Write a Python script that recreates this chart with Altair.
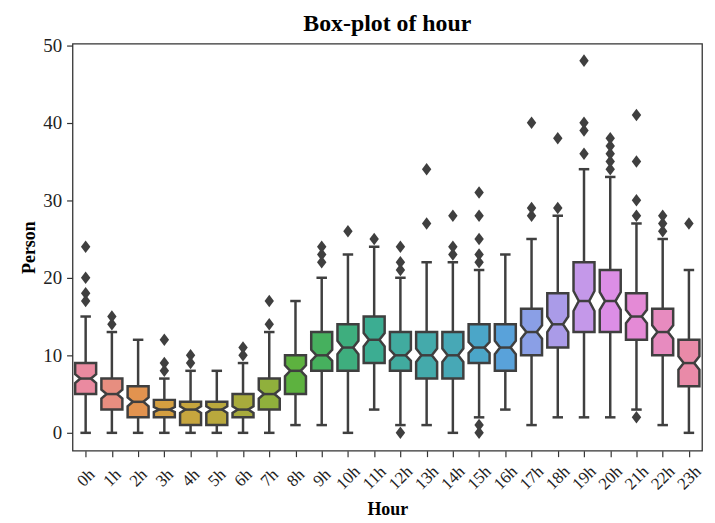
import altair as alt
import pandas as pd
import numpy as np

# ---- data ----
hours = [f"{h}h" for h in range(24)]
q1  = [5, 3, 2, 2, 1, 1, 2, 3, 5, 8, 8, 9, 8, 7, 7, 9, 8, 10, 11, 13, 13, 12, 10, 6]
med = [7, 5, 4, 3, 3, 3, 3, 5, 8, 10, 11, 12, 10, 10, 10, 11, 11, 13, 14, 17, 17, 15, 13, 9]
q3  = [9, 7, 6, 4.25, 4, 4, 5, 7, 10, 13, 14, 15, 13, 13, 13, 14, 14, 16, 18, 22, 21, 18, 16, 12]
lo  = [0, 0, 0, 0, 0, 0, 0, 0, 1, 1, 0, 3, 1, 1, 0, 2, 3, 1, 2, 2, 2, 3, 1, 0]
hi  = [15, 13, 12, 7, 8, 8, 9, 13, 17, 20, 23, 24, 20, 22, 22, 21, 23, 25, 28, 34, 33, 27, 25, 21]
fliers = [[17, 18, 20, 24], [14, 15], [], [8, 9, 12], [9, 10], [], [10, 11], [14, 17], [],
          [22, 23, 24], [26], [25], [0, 21, 22, 24], [27, 34], [23, 24, 28],
          [0, 1, 22, 23, 25, 28, 31], [], [28, 29, 40], [29, 38], [36, 39, 40, 48],
          [34, 35, 36, 37, 38], [2, 28, 30, 35, 41], [26, 27, 28], [27]]
n_obs = 120  # estimated observations per hour (sets notch size)

colors = ["#ea8aa0", "#e78e80", "#e2934f", "#d49f40", "#c6a53e", "#b9a83d", "#a8ab3c", "#90b03c",
          "#5db23f", "#46b05e", "#3eae7e", "#3cad92", "#41ab9f", "#44aaab", "#47a8b6", "#4ba6c8",
          "#59a2da", "#8a9fe6", "#aa9be8", "#c498e9", "#dc8ee6", "#e48ad6", "#e78bbf", "#e98aa8"]

GRAY = "#3f3f3f"
W = 0.8  # box width (fraction of category)

# ---- build tables ----
box_rows, stat_rows, flier_rows = [], [], []
for i, h in enumerate(hours):
    iqr = q3[i] - q1[i]
    notch = 1.57 * iqr / np.sqrt(n_obs)
    for y, half in [(q1[i], W / 2), (med[i] - notch, W / 2), (med[i], W / 4),
                    (med[i] + notch, W / 2), (q3[i], W / 2)]:
        box_rows.append({"hour": h, "y": y, "xl": i - half, "xr": i + half})
    stat_rows.append({"hour": h, "pos": i, "q1": q1[i], "med": med[i], "q3": q3[i],
                      "lo": lo[i], "hi": hi[i], "cl": i - W / 4, "cr": i + W / 4})
    for v in fliers[i]:
        flier_rows.append({"hour": h, "pos": i, "v": v})

box_df = pd.DataFrame(box_rows)
stat_df = pd.DataFrame(stat_rows)
flier_df = pd.DataFrame(flier_rows)

xscale = alt.Scale(domain=[-0.5, 23.5], nice=False, zero=False)
yscale = alt.Scale(domain=[-2.3, 50.2], nice=False, zero=False)

xaxis = alt.Axis(values=list(range(24)), labelExpr="datum.value + 'h'", title="Hour",
                 labelAngle=-45, labelAlign="center", labelBaseline="middle",
                 labelPadding=21, labelOverlap=False, labelBound=False,
                 titleY=64, titleBaseline="alphabetic", grid=False,
                 domain=False, tickColor="#333", tickWidth=1.2, tickSize=6,
                 labelFontSize=17, titleFontSize=18)
yaxis = alt.Axis(values=[0, 10, 20, 30, 40, 50], title="Person", grid=False, domain=False,
                 tickColor="#333", tickWidth=1.2, tickSize=6, labelPadding=5,
                 labelFontSize=19, titleFontSize=18, titleX=-38, titleBaseline="alphabetic")

base_stat = alt.Chart(stat_df)

whisk_lo = base_stat.mark_rule(color=GRAY, strokeWidth=2.5).encode(
    x=alt.X("pos:Q", scale=xscale, axis=xaxis),
    y=alt.Y("lo:Q", scale=yscale, axis=yaxis),
    y2="q1:Q")
whisk_hi = base_stat.mark_rule(color=GRAY, strokeWidth=2.5).encode(
    x=alt.X("pos:Q", axis=xaxis), y=alt.Y("q3:Q", axis=yaxis), y2="hi:Q")

boxes = alt.Chart(box_df).mark_area(orient="horizontal", stroke=GRAY, strokeWidth=2.5,
                                    strokeJoin="miter", opacity=1).encode(
    y=alt.Y("y:Q", axis=yaxis),
    x=alt.X("xl:Q", stack=None, axis=xaxis),
    x2="xr:Q",
    color=alt.Color("hour:N", scale=alt.Scale(domain=hours, range=colors), legend=None),
    detail="hour:N")

medians = base_stat.mark_rule(color=GRAY, strokeWidth=2.5).encode(
    x=alt.X("cl:Q", axis=xaxis), x2="cr:Q", y=alt.Y("med:Q", axis=yaxis))
cap_lo = base_stat.mark_rule(color=GRAY, strokeWidth=2.5).encode(
    x=alt.X("cl:Q", axis=xaxis), x2="cr:Q", y=alt.Y("lo:Q", axis=yaxis))
cap_hi = base_stat.mark_rule(color=GRAY, strokeWidth=2.5).encode(
    x=alt.X("cl:Q", axis=xaxis), x2="cr:Q", y=alt.Y("hi:Q", axis=yaxis))

outl = alt.Chart(flier_df).mark_point(
    shape="M0,-1L0.75,0L0,1L-0.75,0Z", filled=True, color=GRAY, opacity=1, size=160,
    strokeWidth=0).encode(x=alt.X("pos:Q", axis=xaxis), y=alt.Y("v:Q", axis=yaxis))

chart = alt.layer(whisk_lo, whisk_hi, boxes, medians, cap_lo, cap_hi, outl).properties(
    width=634, height=410,
    title=alt.TitleParams("Box-plot of hour", fontSize=24, fontWeight="bold",
                          font="Liberation Serif", color="black", offset=0, anchor="middle"),
    autosize=alt.AutoSizeParams(type="none"),
    padding={"left": 65, "top": 34, "right": 5, "bottom": 70},
).configure_view(stroke="#333", strokeWidth=1.3).configure_axis(
    labelFont="Liberation Serif", titleFont="Liberation Serif", labelColor="#222",
    titleColor="black", titleFontWeight="bold").configure_axisX(
    labelOverlap=False, labelBound=False)

chart.save("out.html", embed_options={"renderer": "svg", "actions": False})
